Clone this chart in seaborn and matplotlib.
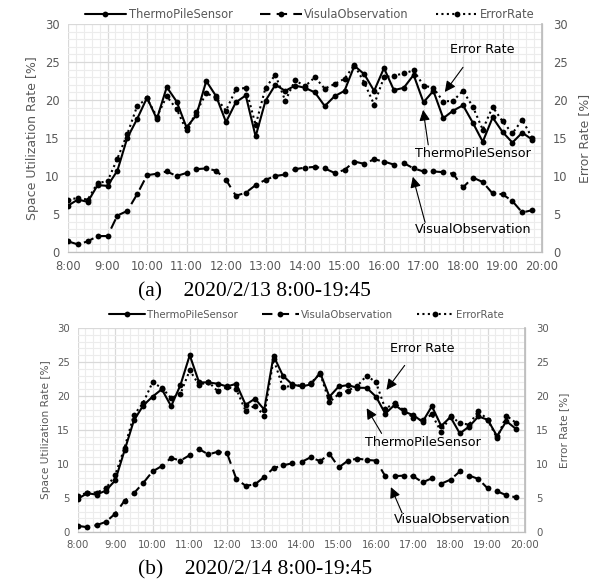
import numpy as np
import pandas as pd
import matplotlib
matplotlib.use("Agg")
import matplotlib.pyplot as plt
from matplotlib.ticker import MultipleLocator, FuncFormatter
import seaborn as sns

# ---- data -------------------------------------------------------------
times = [f"{h}:{m:02d}" for h in range(8, 20) for m in (0, 15, 30, 45)]

thermo_a = [6.1, 6.9, 6.6, 8.8, 8.7, 10.7, 15.0, 17.5, 20.3, 17.5, 21.7, 19.8,
            16.4, 18.0, 22.5, 20.5, 17.1, 19.7, 20.6, 15.2, 19.9, 22.0, 21.2, 21.9,
            21.6, 21.0, 19.2, 20.5, 21.2, 24.5, 23.4, 21.2, 24.2, 21.3, 21.6, 23.3,
            19.7, 21.2, 17.6, 18.6, 19.3, 17.0, 14.5, 17.7, 15.8, 14.4, 15.7, 14.8]
visual_a = [1.4, 1.0, 1.4, 2.1, 2.1, 4.8, 5.4, 7.6, 10.1, 10.3, 10.6, 10.0,
            10.4, 10.9, 11.0, 10.7, 9.5, 7.4, 7.8, 8.8, 9.5, 10.0, 10.2, 10.9,
            11.1, 11.2, 11.0, 10.4, 10.8, 11.9, 11.6, 12.2, 11.9, 11.5, 11.7, 11.0,
            10.6, 10.6, 10.5, 10.3, 8.5, 9.8, 9.2, 7.7, 7.6, 6.7, 5.2, 5.5]
error_a = [6.9, 7.1, 6.9, 9.1, 9.3, 12.3, 15.5, 19.2, 20.2, 17.8, 20.5, 18.8,
           16.0, 18.4, 20.9, 20.3, 18.6, 21.4, 21.6, 16.7, 21.6, 23.3, 19.9, 22.6,
           21.8, 23.0, 21.5, 22.1, 22.8, 24.6, 22.3, 19.4, 23.0, 23.2, 23.5, 23.9,
           21.9, 21.6, 19.8, 19.9, 21.2, 19.1, 16.1, 19.1, 17.2, 15.6, 17.4, 15.0]

thermo_b = [4.9, 5.7, 5.5, 6.1, 7.6, 12.0, 16.4, 18.6, 19.9, 21.0, 18.5, 21.6,
            26.0, 22.0, 22.0, 21.8, 21.4, 21.8, 18.7, 19.6, 18.0, 25.9, 23.0, 21.7,
            21.4, 21.7, 23.4, 19.9, 21.4, 21.6, 21.2, 21.2, 19.9, 17.4, 18.7, 17.7,
            17.2, 16.2, 18.5, 15.6, 16.9, 14.5, 15.5, 17.0, 16.5, 14.1, 16.3, 15.2]
visual_b = [0.9, 0.7, 1.0, 1.5, 2.7, 4.6, 5.7, 7.2, 8.9, 9.7, 10.9, 10.5,
            11.3, 12.2, 11.4, 11.8, 11.6, 7.8, 6.8, 7.0, 8.1, 9.4, 9.8, 10.1,
            10.3, 11.0, 10.4, 11.5, 9.5, 10.5, 10.8, 10.6, 10.5, 8.2, 8.2, 8.3,
            8.2, 7.3, 7.9, 7.1, 7.7, 8.9, 8.3, 7.8, 6.4, 6.0, 5.4, 5.1]
error_b = [5.3, 5.8, 5.8, 6.4, 8.4, 12.4, 17.2, 19.0, 22.0, 21.2, 19.7, 20.3,
           23.8, 21.6, 22.1, 20.7, 21.3, 21.0, 17.8, 18.6, 17.1, 25.4, 21.3, 21.5,
           21.6, 21.9, 23.3, 19.1, 20.3, 20.8, 21.5, 23.0, 22.0, 18.1, 19.0, 17.9,
           16.8, 16.4, 17.3, 14.7, 17.1, 16.0, 15.8, 17.8, 16.5, 13.8, 17.1, 16.1]

series_names = ["ThermoPileSensor", "VisulaObservation", "ErrorRate"]
captions = ["(a)    2020/2/13 8:00-19:45", "(b)    2020/2/14 8:00-19:45"]

# ---- style --------------------------------------------------------------
sns.set_theme(style="white")
plt.rcParams["font.family"] = ["DejaVu Sans"]

hours = [int(t.split(":")[0]) + int(t.split(":")[1]) / 60 for t in times]

W, H = 592, 587
fig = plt.figure(figsize=(W / 100, H / 100), dpi=100)


def px_axes(l, t, r, b):
    return fig.add_axes([l / W, 1 - b / H, (r - l) / W, (b - t) / H])


GRAY_TXT = "#595959"


def draw(ax, thermo, visual, error, fs_tick, fs_lab, fs_leg, fs_ann, leg_y, ann):
    df = pd.DataFrame({"hour": hours, "thermo": thermo, "visual": visual, "error": error})
    common = dict(ax=ax, color="black", marker="o", markersize=4.2,
                  markeredgewidth=0, linewidth=1.5)
    sns.lineplot(data=df, x="hour", y="error", linestyle=(0, (1, 1.6)),
                 label=series_names[2], **common)
    sns.lineplot(data=df, x="hour", y="visual", linestyle=(0, (5, 3)),
                 label=series_names[1], **common)
    sns.lineplot(data=df, x="hour", y="thermo", linestyle="-",
                 label=series_names[0], **common)
    ax.set_xlim(8, 20)
    ax.set_ylim(0, 30)
    ax.xaxis.set_major_locator(MultipleLocator(1))
    ax.xaxis.set_minor_locator(MultipleLocator(0.2))
    ax.yaxis.set_major_locator(MultipleLocator(5))
    ax.yaxis.set_minor_locator(MultipleLocator(1))
    ax.xaxis.set_major_formatter(FuncFormatter(lambda v, p: f"{int(round(v))}:00"))
    ax.grid(which="minor", color="#ececec", linewidth=0.8)
    ax.grid(which="major", color="#d9d9d9", linewidth=0.9)
    ax.set_axisbelow(True)
    ax.tick_params(axis="y", which="both", length=0, labelsize=fs_tick, colors=GRAY_TXT, pad=6)
    ax.tick_params(axis="x", which="both", length=0, labelsize=fs_tick, colors=GRAY_TXT, pad=6)
    ax.set_xlabel("")
    ax.set_ylabel("Space Utilization Rate [%]", fontsize=fs_lab, color=GRAY_TXT, labelpad=4)
    for s in ["top", "left"]:
        ax.spines[s].set_visible(False)
    for s in ["bottom", "right"]:
        ax.spines[s].set_color("#bfbfbf")
        ax.spines[s].set_linewidth(0.9)

    ax2 = ax.twinx()
    ax2.set_ylim(0, 30)
    ax2.yaxis.set_major_locator(MultipleLocator(5))
    ax2.tick_params(length=0, labelsize=fs_tick, colors=GRAY_TXT, pad=8)
    ax2.set_ylabel("Error Rate [%]", fontsize=fs_lab, color=GRAY_TXT, labelpad=7)
    for s in ["top", "left", "bottom"]:
        ax2.spines[s].set_visible(False)
    ax2.spines["right"].set_color("#bfbfbf")
    ax2.grid(False)

    h, l = ax.get_legend_handles_labels()
    order = [2, 1, 0]
    ax.legend([h[i] for i in order], [l[i] for i in order], loc="center",
              bbox_to_anchor=(0.51, leg_y), ncol=3, frameon=False, fontsize=fs_leg,
              handlelength=3.6, columnspacing=2.4, handletextpad=0.2,
              labelcolor=GRAY_TXT)

    for txt, tpos, head, tail in ann:
        ax.text(*tpos, txt, ha="center", va="center", fontsize=fs_ann, color="black")
        ax.annotate("", xy=head, xytext=tail,
                    arrowprops=dict(arrowstyle="-|>", color="black", lw=0.8,
                                    mutation_scale=16, shrinkA=0, shrinkB=0))


ax_a = px_axes(68, 24, 542, 252)
draw(ax_a, thermo_a, visual_a, error_a, 8.3, 9, 8.3, 9.2, 1.04,
     [("Error Rate", (18.48, 26.6), (17.54, 21.05), (18.0, 24.3)),
      ("ThermoPileSensor", (18.25, 13.0), (16.99, 18.7), (17.12, 14.1)),
      ("VisualObservation", (18.25, 2.9), (16.73, 9.9), (17.04, 3.9))])

ax_b = px_axes(78, 328, 525, 532)
draw(ax_b, thermo_b, visual_b, error_b, 7.3, 7.6, 7.3, 9.2, 1.064,
     [("Error Rate", (17.25, 27.0), (16.28, 20.9), (16.77, 24.5)),
      ("ThermoPileSensor", (17.25, 13.2), (15.75, 18.2), (16.15, 14.5)),
      ("VisualObservation", (18.05, 1.8), (16.4, 6.6), (16.7, 2.8))])

for cap, y in zip(captions, [292, 570]):
    fig.text(138 / W, 1 - y / H, cap, ha="left", va="center",
             fontsize=15.5, family=["Liberation Serif", "DejaVu Serif"], color="black")

fig.savefig("out.png", dpi=100)
